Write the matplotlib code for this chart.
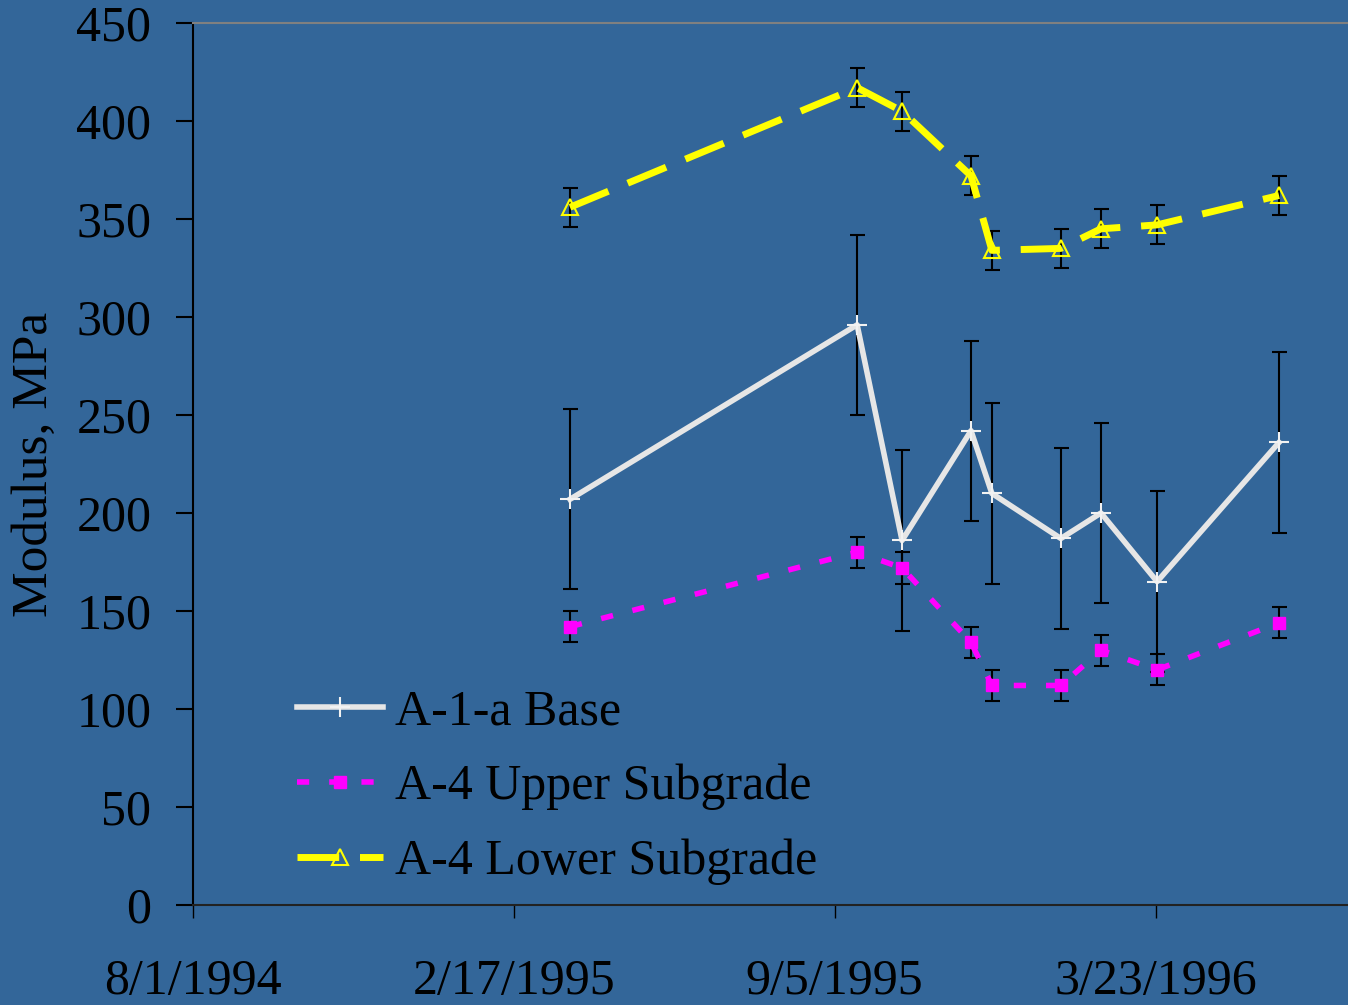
import datetime as dt

import matplotlib
matplotlib.use("Agg")
import matplotlib.pyplot as plt

plt.rcParams["font.family"] = ["Liberation Serif", "DejaVu Serif"]

# test dates and backcalculated moduli (MPa)
dates = ["1995-03-24", "1995-09-19", "1995-10-17", "1995-11-29", "1995-12-12",
         "1996-01-24", "1996-02-18", "1996-03-24", "1996-06-08"]
base = [207, 296, 186, 242, 210, 187, 200, 165, 236]
base_err = [46, 46, 46, 46, 46, 46, 46, 46, 46]
upper = [142, 180, 172, 134, 112, 112, 130, 120, 144]
upper_err = [8, 8, 8, 8, 8, 8, 8, 8, 8]
lower = [356, 417, 405, 372, 334, 335, 345, 347, 362]
lower_err = [10, 10, 10, 10, 10, 10, 10, 10, 10]

labels = ["A-1-a Base", "A-4 Upper Subgrade", "A-4 Lower Subgrade"]
tick_dates = ["1994-08-01", "1995-02-17", "1995-09-05", "1996-03-23"]
y_ticks = [0, 50, 100, 150, 200, 250, 300, 350, 400, 450]

bg = "#336699"
x = [dt.datetime.strptime(d, "%Y-%m-%d") for d in dates]
xt = [dt.datetime.strptime(d, "%Y-%m-%d") for d in tick_dates]

fig = plt.figure(figsize=(13.48, 10.05), dpi=100, facecolor=bg)
ax = fig.add_axes([193 / 1348, 100 / 1005, 1 - 193 / 1348, 882 / 1005])
ax.set_facecolor(bg)

# error bars behind the lines
for vals, errs in [(base, base_err), (upper, upper_err), (lower, lower_err)]:
    ax.errorbar(x, vals, yerr=errs, fmt="none", ecolor="black",
                elinewidth=1.5, capsize=5.4, capthick=1.5, zorder=2)

ax.plot(x, base, color="#e6e6e6", lw=4, marker="+", ms=15, mew=1.5,
        mec="#f2f2f2", label=labels[0], zorder=3)
ax.plot(x, upper, color="#ff00ff", lw=4, dashes=(2.2, 3.6), marker="s", ms=8,
        mec="#ff00ff", mfc="#ff00ff", label=labels[1], zorder=3)
ax.plot(x, lower, color="#ffff00", lw=5, dashes=(6, 3), marker="^", ms=11,
        mew=1.5, mec="#ffff00", mfc="none", label=labels[2], zorder=3)

start = xt[0]
ax.set_xlim(start, start + dt.timedelta(days=720))
ax.set_ylim(0, 450)
ax.set_yticks(y_ticks)
ax.set_xticks(xt)
ax.set_xticklabels([f"{d.month}/{d.day}/{d.year}" for d in xt])

ax.tick_params(axis="y", direction="out", length=12, width=1.5, pad=18,
               labelsize=36, colors="black")
ax.tick_params(axis="x", direction="out", length=9.5, width=1, pad=29,
               labelsize=36, colors="black")

ax.spines["right"].set_visible(False)
ax.spines["top"].set_color("#808080")
ax.spines["top"].set_linewidth(1.5)
ax.spines["left"].set_color("black")
ax.spines["left"].set_linewidth(1.5)
ax.spines["bottom"].set_color("#222222")
ax.spines["bottom"].set_linewidth(1.5)

ax.set_ylabel("Modulus, MPa", fontsize=37, color="black")
ax.yaxis.set_label_coords(-0.117, 0.5)

ax.legend(loc="upper left", bbox_to_anchor=(0.09, 0.245), frameon=False,
          fontsize=36, numpoints=1, borderpad=0, borderaxespad=0,
          handlelength=1.72, handletextpad=0.25, labelspacing=0.57)

fig.savefig("out.png", dpi=100, facecolor=bg)
